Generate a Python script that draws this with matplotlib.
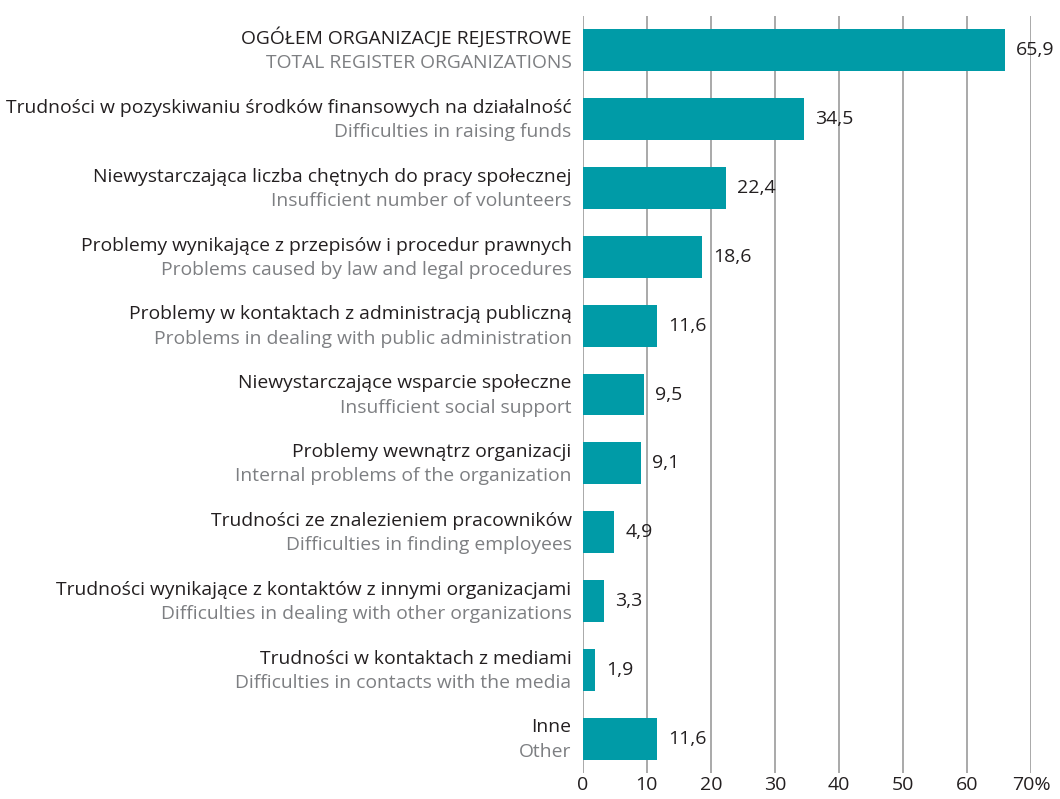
import numpy as np
import matplotlib
matplotlib.use('Agg')
import matplotlib.pyplot as plt

labels_pl = ['OGÓŁEM ORGANIZACJE REJESTROWE',
             'Trudności w pozyskiwaniu środków finansowych na działalność',
             'Niewystarczająca liczba chętnych do pracy społecznej',
             'Problemy wynikające z przepisów i procedur prawnych',
             'Problemy w kontaktach z administracją publiczną',
             'Niewystarczające wsparcie społeczne',
             'Problemy wewnątrz organizacji',
             'Trudności ze znalezieniem pracowników',
             'Trudności wynikające z kontaktów z innymi organizacjami',
             'Trudności w kontaktach z mediami',
             'Inne']
labels_en = ['TOTAL REGISTER ORGANIZATIONS',
             'Difficulties in raising funds',
             'Insufficient number of volunteers',
             'Problems caused by law and legal procedures',
             'Problems in dealing with public administration',
             'Insufficient social support',
             'Internal problems of the organization',
             'Difficulties in finding employees',
             'Difficulties in dealing with other organizations',
             'Difficulties in contacts with the media',
             'Other']
values = [65.9, 34.5, 22.4, 18.6, 11.6, 9.5, 9.1, 4.9, 3.3, 1.9, 11.6]
xticks = [0, 10, 20, 30, 40, 50, 60, 70]
xticklabels = ['0', '10', '20', '30', '40', '50', '60', '70%']

plt.rcParams['font.family'] = ['Open Sans', 'DejaVu Sans']

bar_col = '#009ba7'
dark = '#231f20'
grey = '#7d7f82'
grid_col = '#a3a3a3'

fig = plt.figure(figsize=(10.6, 7.99), dpi=100)
ax = fig.add_axes([0.5497, 0.0325, 0.4233, 0.9475])

y = np.arange(len(values))
ax.barh(y, values, height=0.61, color=bar_col, zorder=3)

for xt in xticks:
    ax.axvline(xt, color=grid_col, lw=1.3, zorder=1)

ax.set_xlim(0, 70)
ax.set_ylim(10.5, -0.5)
for s in ax.spines.values():
    s.set_visible(False)
ax.set_yticks([])
ax.set_xticks(xticks)
ax.set_xticklabels(xticklabels, fontsize=14, color=dark)
ax.tick_params(axis='x', length=0, pad=2)

# etykiety kategorii (PL + EN) i wartości
for i in range(len(values)):
    ax.annotate(labels_pl[i], xy=(0, i), xytext=(-8, 4.5), textcoords='offset points',
                ha='right', va='baseline', fontsize=13.9, color=dark)
    ax.annotate(labels_en[i], xy=(0, i), xytext=(-8, -13), textcoords='offset points',
                ha='right', va='baseline', fontsize=13.9, color=grey)
    ax.annotate(f'{values[i]:.1f}'.replace('.', ','), xy=(values[i], i), xytext=(8, 0),
                textcoords='offset points', ha='left', va='center', fontsize=14, color=dark)

fig.savefig('out.png', dpi=100)
